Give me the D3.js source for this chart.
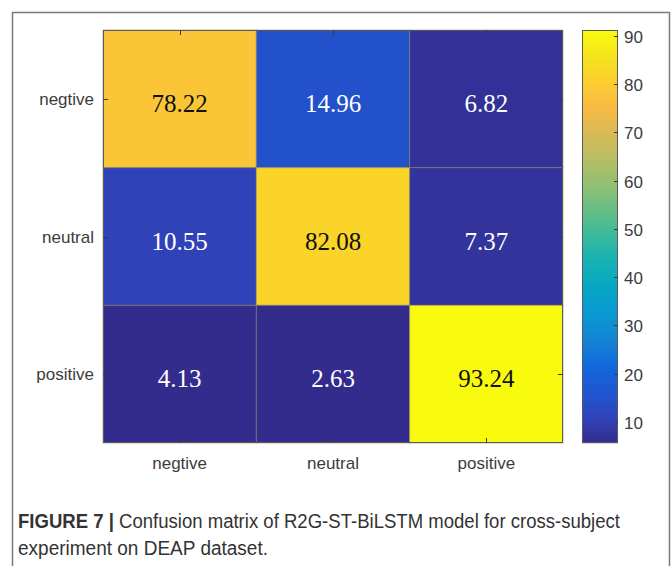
<!DOCTYPE html>
<html>
<head>
<meta charset="utf-8">
<script src="https://cdn.jsdelivr.net/npm/d3@7"></script>
<style>
  html, body { margin: 0; padding: 0; background: #fff; }
  svg { display: block; }
</style>
</head>
<body>
<svg id="chart" width="672" height="566"></svg>
<script>
// Class labels (true class on rows, predicted class on columns)
const rowLabels = ["negtive", "neutral", "positive"];
const colLabels = ["negtive", "neutral", "positive"];

// Confusion matrix values in percent, one array per true class
const negtiveRow = [78.22, 14.96, 6.82];
const neutralRow = [10.55, 82.08, 7.37];
const positiveRow = [4.13, 2.63, 93.24];
const matrixRows = [negtiveRow, neutralRow, positiveRow];

// Colour bar range and ticks
const colorDomain = [5.6, 91.2];
const colorTicks = [10, 20, 30, 40, 50, 60, 70, 80, 90];

// Caption
const captionBold = "FIGURE 7 |";
const captionLine1 = " Confusion matrix of R2G-ST-BiLSTM model for cross-subject";
const captionLine2 = "experiment on DEAP dataset.";

// Parula-style colormap stops
const parulaStops = ["#332c8c", "#3044bb", "#1f56d2", "#1168dc", "#1485d4", "#0998d1",
  "#06a7c6", "#15b1b4", "#38b99e", "#65be86", "#92bf73", "#b7bd64", "#d9ba56",
  "#f8bb44", "#fcce2e", "#f5e41d", "#f9fb0e"];
const parula = d3.scaleLinear()
  .domain(d3.range(parulaStops.length).map(i => i / (parulaStops.length - 1)))
  .range(parulaStops)
  .interpolate(d3.interpolateRgb)
  .clamp(true);
const norm = d3.scaleLinear().domain(colorDomain).range([0, 1]).clamp(true);
const color = v => parula(norm(v));

const svg = d3.select("#chart");

// Figure frame (top, left and right edges)
svg.append("path")
  .attr("d", "M12.5,566 L12.5,12.5 L669.5,12.5 L669.5,566")
  .attr("fill", "none")
  .attr("stroke", "#7a7a7a")
  .attr("stroke-width", 1.5);

// Heatmap geometry
const plot = { left: 103, top: 30, right: 563, bottom: 443 };
const x = d3.scaleBand().domain(colLabels.map((d, i) => i)).range([plot.left, plot.right]);
const y = d3.scaleBand().domain(rowLabels.map((d, i) => i)).range([plot.top, plot.bottom]);

const cells = [];
matrixRows.forEach((row, r) => row.forEach((v, c) => cells.push({ r, c, v })));

const g = svg.append("g");
g.selectAll("rect.cell")
  .data(cells)
  .join("rect")
  .attr("class", "cell")
  .attr("x", d => x(d.c))
  .attr("y", d => y(d.r))
  .attr("width", x.bandwidth())
  .attr("height", y.bandwidth())
  .attr("fill", d => color(d.v))
  .attr("stroke", "#8c8464")
  .attr("stroke-opacity", 0.55)
  .attr("stroke-width", 1);

g.selectAll("text.val")
  .data(cells)
  .join("text")
  .attr("class", "val")
  .attr("x", d => x(d.c) + x.bandwidth() / 2)
  .attr("y", d => y(d.r) + y.bandwidth() / 2 + 13)
  .attr("text-anchor", "middle")
  .attr("font-family", "'Liberation Serif', 'Times New Roman', serif")
  .attr("font-size", 25)
  .attr("fill", d => d.v < 50 ? "#ffffff" : "#111111")
  .text(d => d.v.toFixed(2));

// Axis box
g.append("rect")
  .attr("x", plot.left + 0.5).attr("y", plot.top + 0.5)
  .attr("width", plot.right - plot.left - 1).attr("height", plot.bottom - plot.top - 1)
  .attr("fill", "none").attr("stroke", "#5a5a5a").attr("stroke-width", 1);

// Inward ticks on all four sides
const tickLen = 5;
const tickColor = "#3a3a3a";
colLabels.forEach((d, i) => {
  const cx = Math.round(x(i) + x.bandwidth() / 2) + 0.5;
  g.append("line").attr("x1", cx).attr("x2", cx).attr("y1", plot.top).attr("y2", plot.top + tickLen)
    .attr("stroke", tickColor);
  g.append("line").attr("x1", cx).attr("x2", cx).attr("y1", plot.bottom).attr("y2", plot.bottom - tickLen)
    .attr("stroke", tickColor);
});
rowLabels.forEach((d, i) => {
  const cy = Math.round(y(i) + y.bandwidth() / 2) + 0.5;
  g.append("line").attr("x1", plot.left).attr("x2", plot.left + tickLen).attr("y1", cy).attr("y2", cy)
    .attr("stroke", tickColor);
  g.append("line").attr("x1", plot.right).attr("x2", plot.right - tickLen).attr("y1", cy).attr("y2", cy)
    .attr("stroke", tickColor);
});

const labelFont = "'Liberation Sans', Arial, Helvetica, sans-serif";
const labelColor = "#3c3c3c";

// Row labels
svg.selectAll("text.rowlab")
  .data(rowLabels)
  .join("text")
  .attr("class", "rowlab")
  .attr("x", plot.left - 9)
  .attr("y", (d, i) => y(i) + y.bandwidth() / 2 + 6)
  .attr("text-anchor", "end")
  .attr("font-family", labelFont)
  .attr("font-size", 17)
  .attr("fill", labelColor)
  .text(d => d);

// Column labels
svg.selectAll("text.collab")
  .data(colLabels)
  .join("text")
  .attr("class", "collab")
  .attr("x", (d, i) => x(i) + x.bandwidth() / 2)
  .attr("y", plot.bottom + 26)
  .attr("text-anchor", "middle")
  .attr("font-family", labelFont)
  .attr("font-size", 17)
  .attr("fill", labelColor)
  .text(d => d);

// Colour bar
const cb = { left: 582, right: 618, top: 30, bottom: 443 };
const cbScale = d3.scaleLinear().domain(colorDomain).range([cb.bottom, cb.top]);
const cbSteps = d3.range(cb.top, cb.bottom, 1);
svg.append("g")
  .selectAll("rect")
  .data(cbSteps)
  .join("rect")
  .attr("x", cb.left)
  .attr("y", d => d)
  .attr("width", cb.right - cb.left)
  .attr("height", 1.2)
  .attr("fill", d => color(cbScale.invert(d + 0.5)));
svg.append("rect")
  .attr("x", cb.left + 0.5).attr("y", cb.top + 0.5)
  .attr("width", cb.right - cb.left - 1).attr("height", cb.bottom - cb.top - 1)
  .attr("fill", "none").attr("stroke", "#5a5a5a").attr("stroke-width", 1);

const cbAxis = svg.append("g");
colorTicks.forEach(t => {
  const ty = Math.round(cbScale(t)) + 0.5;
  cbAxis.append("line")
    .attr("x1", cb.right - 4).attr("x2", cb.right)
    .attr("y1", ty).attr("y2", ty)
    .attr("stroke", tickColor);
  cbAxis.append("text")
    .attr("x", cb.right + 6)
    .attr("y", ty + 6)
    .attr("font-family", labelFont)
    .attr("font-size", 17)
    .attr("fill", labelColor)
    .text(t);
});

// Caption
const capFont = "'Liberation Sans Narrow', 'Arial Narrow', 'Liberation Sans', Arial, sans-serif";
const cap1 = svg.append("text")
  .attr("x", 18)
  .attr("y", 528)
  .attr("font-family", capFont)
  .attr("font-size", 19.5)
  .attr("fill", "#333")
  .attr("textLength", 602)
  .attr("lengthAdjust", "spacingAndGlyphs");
cap1.append("tspan").attr("font-weight", "bold").text(captionBold);
cap1.append("tspan").text(captionLine1);

svg.append("text")
  .attr("x", 18)
  .attr("y", 555)
  .attr("font-family", capFont)
  .attr("font-size", 19.5)
  .attr("fill", "#333")
  .attr("textLength", 250)
  .attr("lengthAdjust", "spacingAndGlyphs")
  .text(captionLine2);
</script>
</body>
</html>
